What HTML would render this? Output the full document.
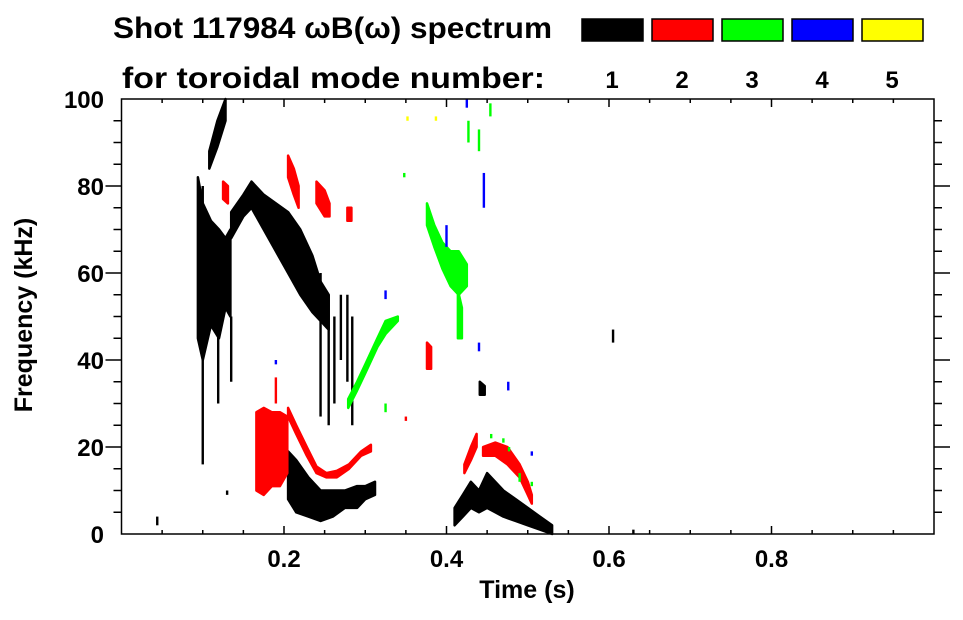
<!DOCTYPE html>
<html><head><meta charset="utf-8"><style>
html,body{margin:0;padding:0;background:#fff;}
svg text{font-family:"Liberation Sans",Arial,sans-serif;font-weight:bold;fill:#000;}
</style></head><body>
<svg id="chart" width="963" height="615" viewBox="0 0 963 615" xmlns="http://www.w3.org/2000/svg">
<text x="113" y="38" font-size="30" textLength="439" lengthAdjust="spacingAndGlyphs">Shot 117984 ωB(ω) spectrum</text>
<text x="122" y="88" font-size="30" textLength="423" lengthAdjust="spacingAndGlyphs">for toroidal mode number:</text>
<g id="legend"></g>
<g id="plot"></g>
<g id="axes"></g>
<text x="527" y="598" font-size="25" text-anchor="middle">Time (s)</text>
<text x="0" y="0" font-size="25" text-anchor="middle" transform="translate(32,315) rotate(-90)">Frequency (kHz)</text>
</svg>
<script>
const modeNames = ['1','2','3','4','5'];
const modeColors = ['#000000','#ff0000','#00ff00','#0000ff','#ffff00'];
const xTicks = [0.2,0.4,0.6,0.8];
const yTicks = [0,20,40,60,80,100];
// bands: [t, fLow, fHigh]
const mode1Bands = [
 [[0.108,84,88],[0.118,89,95],[0.128,95,100]],
 [[0.094,45,82],[0.100,40,76],[0.110,48,72],[0.120,45,70],[0.128,52,68],[0.134,50,70]],
 [[0.135,68,74],[0.150,73,78],[0.160,75,81],[0.175,70,78],[0.190,65,76],[0.205,60,74],[0.220,55,70],[0.235,51,64],[0.245,49,58],[0.255,47,55]],
 [[0.205,8,19],[0.215,5,17],[0.230,4,13],[0.245,3,10],[0.260,4,10],[0.275,6,10],[0.290,6,11],[0.300,8,11],[0.312,9,12]],
 [[0.410,2,6],[0.420,4,9],[0.430,6,12],[0.440,5,10],[0.450,6,14],[0.460,5,12],[0.470,4,10],[0.485,3,8],[0.500,2,6],[0.515,1,4],[0.530,0,2]],
 [[0.441,32,35],[0.447,32,34]]
];
const mode1Streaks = [[0.100,16,80],[0.119,30,50],[0.135,35,50],[0.245,27,60],[0.255,25,55],[0.262,30,50],[0.270,40,55],[0.278,35,55],[0.284,25,50],[0.044,2,4],[0.130,9,10],[0.630,0,1],[0.605,44,47]];
const mode2Bands = [
 [[0.166,10,28],[0.175,9,29],[0.185,11,28],[0.195,11,28],[0.204,14,27]],
 [[0.205,27,29],[0.215,23,25],[0.228,18,20],[0.240,14,15.5],[0.252,13,14],[0.265,13,14.5],[0.280,15,16],[0.295,18,19],[0.307,19,20.5]],
 [[0.205,82,87],[0.212,78,84],[0.218,75,80]],
 [[0.240,76,81],[0.250,73,79],[0.256,73,76]],
 [[0.278,72,75],[0.283,72,75]],
 [[0.125,77,81],[0.131,76,80]],
 [[0.376,38,44],[0.381,38,43]],
 [[0.422,14,16],[0.430,17,20],[0.437,20,23]],
 [[0.445,18,20],[0.460,18,21],[0.475,16,20],[0.490,13,16],[0.500,9,12],[0.505,7,9]]
];
const mode2Streaks = [[0.190,30,36],[0.350,26,27]];
const mode3Bands = [
 [[0.376,71,76],[0.385,66,71],[0.395,61,67],[0.405,57,65],[0.415,55,65],[0.425,57,62]],
 [[0.414,45,56],[0.419,45,52]],
 [[0.279,29,31],[0.290,33,35],[0.300,37,39],[0.315,43,45],[0.325,46,49],[0.340,49,50]]
];
const mode3Streaks = [[0.325,28,30],[0.455,22,23],[0.470,21,22],[0.477,19,20],[0.490,12,14],[0.505,11,12],[0.440,88,93],[0.427,90,95],[0.454,96,99],[0.348,82,83]];
const mode4Streaks = [[0.400,66,71],[0.446,75,83],[0.425,98,100],[0.190,39,40],[0.325,54,56],[0.440,42,44],[0.505,18,19],[0.476,33,35]];
const mode5Streaks = [[0.352,95,96],[0.387,95,96]];

const X0=121.5, X1=934, Y0=534, Y1=99;
const xs = t => X0 + (t-0)/(1.0-0)*(X1-X0);
const ys = f => Y0 - (f-0)/(100-0)*(Y0-Y1);
const NS='http://www.w3.org/2000/svg';
function mk(tag, attrs, parent){const e=document.createElementNS(NS,tag);for(const k in attrs)e.setAttribute(k,attrs[k]);parent.appendChild(e);return e;}
const plot=document.getElementById('plot'), axes=document.getElementById('axes'), legend=document.getElementById('legend');

function drawBands(bands, color, label){
 bands.forEach(b=>{
  const top=b.map(p=>xs(p[0]).toFixed(1)+','+ys(p[2]).toFixed(1));
  const bot=b.slice().reverse().map(p=>(xs(p[0])).toFixed(1)+','+ys(p[1]).toFixed(1));
  const el=mk('polygon',{points:top.concat(bot).join(' '),fill:color,stroke:color,'stroke-width':2.5,'stroke-linejoin':'round'},plot);
  
  
 });
}
function drawStreaks(streaks, color, label){
 streaks.forEach(s=>{
  const el=mk('rect',{x:xs(s[0])-1.2,y:ys(s[2]),width:2.4,height:Math.max(1.5,ys(s[1])-ys(s[2])),fill:color},plot);
  
  
 });
}
drawBands(mode1Bands,modeColors[0],'mode-1');
drawStreaks(mode1Streaks,modeColors[0],'mode-1');
drawBands(mode2Bands,modeColors[1],'mode-2');
drawStreaks(mode2Streaks,modeColors[1],'mode-2');
drawBands(mode3Bands,modeColors[2],'mode-3');
drawStreaks(mode3Streaks,modeColors[2],'mode-3');
drawStreaks(mode4Streaks,modeColors[3],'mode-4');
drawStreaks(mode5Streaks,modeColors[4],'mode-5');

const fr=mk('rect',{x:X0,y:Y1,width:X1-X0,height:Y0-Y1,fill:'none',stroke:'#000','stroke-width':1.5},axes);


for(let i=1;i<20;i++){
 const t=i*0.05, x=xs(t), major=(i%4===0);
 const L=major?8:4;
 mk('line',{x1:x,x2:x,y1:Y0,y2:Y0-L,stroke:'#000','stroke-width':1.5},axes);
 mk('line',{x1:x,x2:x,y1:Y1,y2:Y1+L,stroke:'#000','stroke-width':1.5},axes);
}
xTicks.forEach(t=>{
 const el=mk('text',{x:xs(t),y:567,'font-size':24,'text-anchor':'middle'},axes);
 el.textContent=t.toFixed(1);
 
 
});
for(let i=1;i<20;i++){
 const f=i*5, y=ys(f), major=(i%4===0);
 mk('line',{x1:X0,x2:X0-(major?16:8),y1:y,y2:y,stroke:'#000','stroke-width':1.5},axes);
 mk('line',{x1:X1,x2:X1+(major?16:8),y1:y,y2:y,stroke:'#000','stroke-width':1.5},axes);
}
yTicks.forEach(f=>{
 const el=mk('text',{x:104,y:ys(f)+9,'font-size':24,'text-anchor':'end'},axes);
 el.textContent=String(f);
 
 
});
modeNames.forEach((n,i)=>{
 const x=582+i*70;
 const r=mk('rect',{x:x,y:19,width:61,height:22,fill:modeColors[i],stroke:'#000','stroke-width':1.5},legend);
 
 
 const t=mk('text',{x:x+30,y:88,'font-size':24,'text-anchor':'middle'},legend);
 t.textContent=n;
 
 
});
</script>
</body></html>
